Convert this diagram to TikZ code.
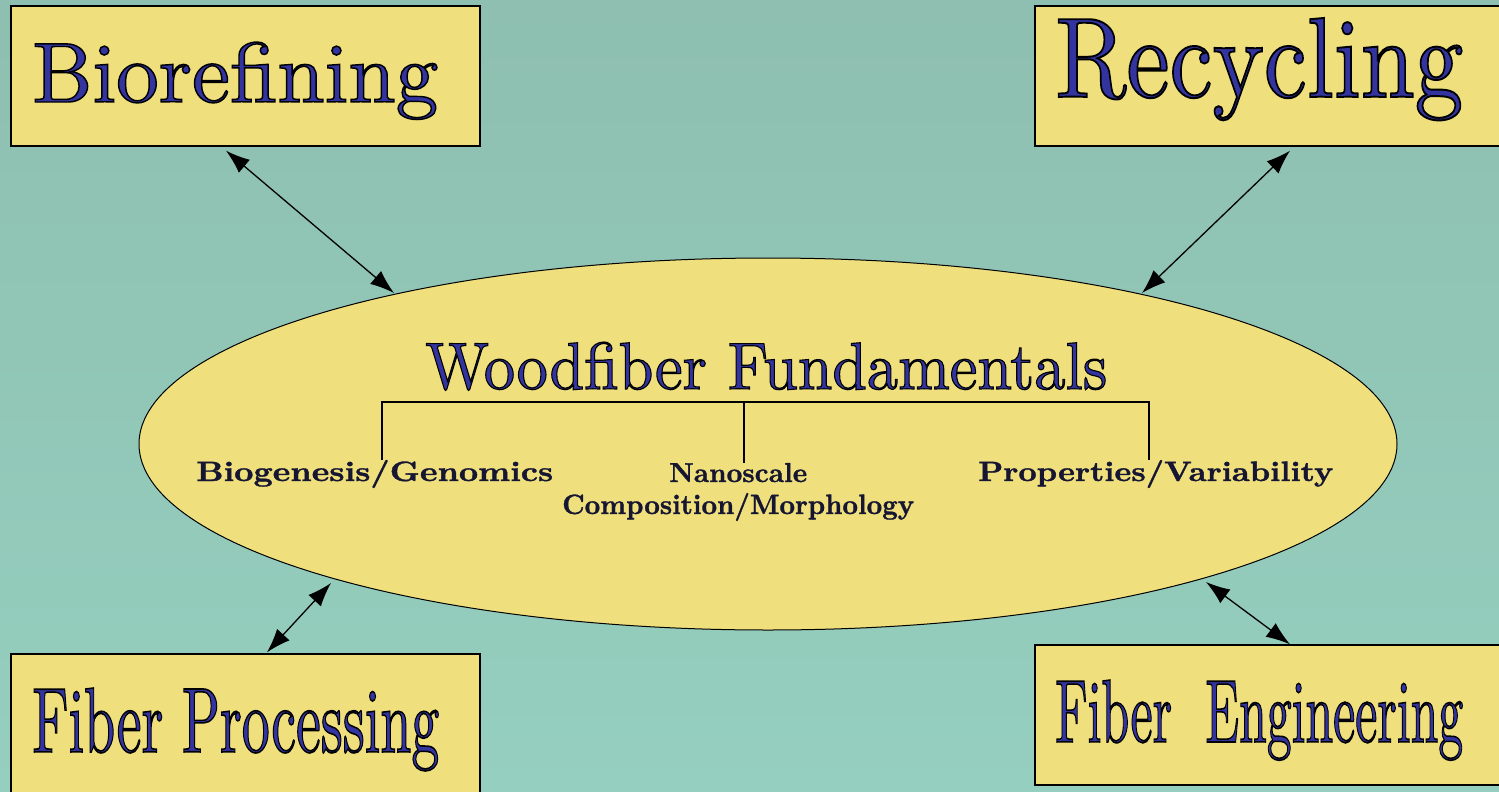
\documentclass[tikz,border=0pt]{standalone}
\usepackage{graphicx}
\usepackage{fontspec}
\setmainfont{lmroman10-regular.otf}[BoldFont=lmroman10-bold.otf]
\newfontfamily\outlfont{lmroman10-regular.otf}[FakeBold=1.7]
\newfontfamily\suboutlfont{lmroman10-bold.otf}[FakeBold=1.2]
\usetikzlibrary{arrows.meta,shapes.geometric}
\definecolor{bgtop}{RGB}{142,191,176}
\definecolor{bgmid}{RGB}{167,225,210}
\definecolor{bgbot}{RGB}{149,207,191}
\definecolor{boxfill}{RGB}{239,224,125}
\definecolor{titleblue}{RGB}{52,52,160}
\definecolor{subdark}{RGB}{22,22,50}
\tikzset{
  box/.style={draw=black, line width=1.4pt, fill=boxfill, rectangle, inner sep=0pt},
  core/.style={draw=black, line width=1pt, fill=boxfill, ellipse, inner sep=0pt},
  bigtext/.style={anchor=base west, inner sep=0pt, text=titleblue},
  subtext/.style={anchor=base west, inner sep=0pt, text=subdark},
  arr/.style={line width=1.3pt, {Latex[length=24pt,width=17pt]}-{Latex[length=24pt,width=17pt]}},
  tree/.style={line width=1.1pt}
}
\newcommand{\blackstroke}{\special{pdf:literal direct 0 0 0 RG}}
\newcommand{\fitto}[3]{\resizebox{#1pt}{#2pt}{\fontsize{20}{24}\outlfont\blackstroke #3}}
\newcommand{\fitsub}[3]{\resizebox{#1pt}{#2pt}{\fontsize{20}{24}\suboutlfont #3}}
\begin{document}
\begin{tikzpicture}[x=1pt,y=-1pt]
\useasboundingbox (0,0) rectangle (1499,792);
\shade[top color=bgtop, middle color=bgmid, bottom color=bgbot] (0,0) rectangle (1499,792);

% boxes
\node[box, minimum width=469pt, minimum height=140pt] (bio) at (245.5,76) {};
\node[box, minimum width=490pt, minimum height=140pt] (rec) at (1280,76) {};
\node[box, minimum width=469pt, minimum height=156pt] (proc) at (245.5,732) {};
\node[box, minimum width=490pt, minimum height=140pt] (eng) at (1280,715) {};

\node[bigtext] (biot) at (32,102) {\fitto{406}{60}{Biorefining}};
\node[bigtext] (rect) at (1055,97) {\fitto{408}{79}{Recycling}};
\node[bigtext] (proct) at (32,752) {\fitto{407}{64}{Fiber Processing}};
\node[bigtext] (engt) at (1055,742) {\fitto{408}{62}{Fiber\ \ Engineering}};

% central ellipse
\node[core, minimum width=1258pt, minimum height=372pt] (core) at (768,444) {};
\node[bigtext] (coret) at (425,389) {\fitto{682}{47}{Woodfiber Fundamentals}};

% tree
\coordinate (tl) at (382,402);
\coordinate (tm) at (744,402);
\coordinate (tr) at (1149,402);
\node[subtext] (bg) at (196,481) {\fitsub{357}{21}{Biogenesis/Genomics}};
\node[subtext] (nano) at (669,482) {\fitsub{138}{19}{Nanoscale}};
\node[subtext] (comp) at (562,514) {\fitsub{352}{21}{Composition/Morphology}};
\node[subtext] (prop) at (978,481) {\fitsub{355}{21}{Properties/Variability}};
\draw[tree] (tl |- bg.north) -- (tl) -- (tr) -- (tr |- prop.north);
\draw[tree] (tm) -- (tm |- nano.north);

% arrows
\draw[arr] ([shift={(-19.5,4)}]bio.south) -- ([shift={(-374,-151)}]core.center);
\draw[arr] ([shift={(10,4)}]rec.south) -- ([shift={(374,-151)}]core.center);
\draw[arr] ([shift={(-437,139)}]core.center) -- ([shift={(21.5,-1)}]proc.north);
\draw[arr] ([shift={(438,138)}]core.center) -- ([shift={(10,0)}]eng.north);
\end{tikzpicture}
\end{document}
